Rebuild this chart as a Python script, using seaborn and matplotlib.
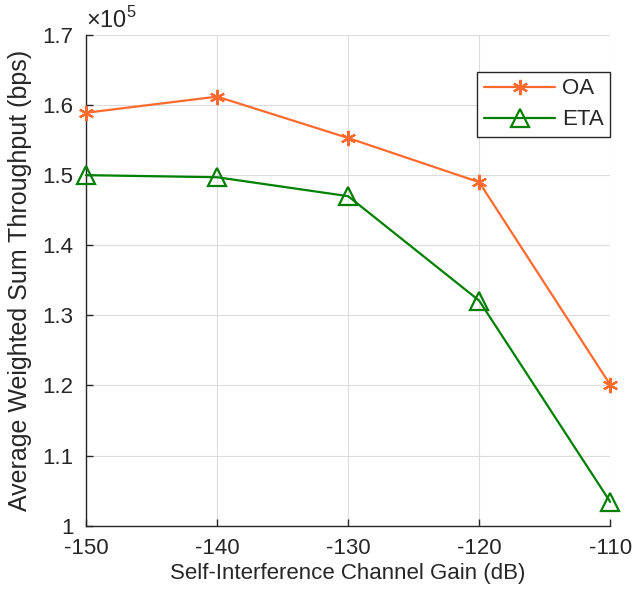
import matplotlib
matplotlib.use("Agg")
import matplotlib.pyplot as plt
import seaborn as sns
import pandas as pd
from matplotlib.ticker import FuncFormatter, MultipleLocator

gain_db = [-150, -140, -130, -120, -110]
oa_throughput = [1.589e5, 1.612e5, 1.553e5, 1.490e5, 1.201e5]
eta_throughput = [1.500e5, 1.497e5, 1.470e5, 1.321e5, 1.034e5]
series_names = ["OA", "ETA"]

sns.set_theme(style="whitegrid")
plt.rcParams["font.family"] = ["Liberation Sans", "DejaVu Sans"]
plt.rcParams["mathtext.fontset"] = "custom"
plt.rcParams["mathtext.rm"] = "Liberation Sans"
plt.rcParams["axes.unicode_minus"] = False

df = pd.DataFrame({
    "gain": gain_db * 2,
    "thr": [v / 1e5 for v in oa_throughput] + [v / 1e5 for v in eta_throughput],
    "series": [series_names[0]] * 5 + [series_names[1]] * 5,
})

fig = plt.figure(figsize=(6.33, 5.92), dpi=100)
ax = fig.add_axes([0.136, 0.112, 0.828, 0.829])

palette = {"OA": "#FF6A2F", "ETA": "#008000"}
sns.lineplot(data=df[df.series == "OA"], x="gain", y="thr", ax=ax, color=palette["OA"],
             marker=(6, 2, 0), markersize=11, markeredgewidth=1.6, linewidth=1.6,
             markeredgecolor=palette["OA"], label="OA", clip_on=False, zorder=5)
sns.lineplot(data=df[df.series == "ETA"], x="gain", y="thr", ax=ax, color=palette["ETA"],
             marker="^", markersize=13, markeredgewidth=1.6, linewidth=1.6,
             markerfacecolor="none", markeredgecolor=palette["ETA"], label="ETA",
             clip_on=False, zorder=5)

ax.set_xlim(-150, -110)
ax.set_ylim(1.0, 1.7)
ax.xaxis.set_major_locator(MultipleLocator(10))
ax.yaxis.set_major_locator(MultipleLocator(0.1))
ax.yaxis.set_major_formatter(FuncFormatter(lambda v, p: f"{round(v, 1):g}"))
ax.xaxis.set_major_formatter(FuncFormatter(lambda v, p: f"{round(v):d}"))

ax.grid(True, color="#dcdcdc", linewidth=0.8)
ax.set_facecolor("white")
for s in ["top", "right"]:
    ax.spines[s].set_visible(False)
for s in ["left", "bottom"]:
    ax.spines[s].set_visible(True)
    ax.spines[s].set_color("#262626")
    ax.spines[s].set_linewidth(1.0)

ax.tick_params(axis="both", direction="in", length=5, width=1.0, colors="#262626",
               labelsize=16, labelcolor="#262626", left=True, bottom=True)
ax.tick_params(axis="x", pad=9)
ax.tick_params(axis="y", pad=9)

ax.set_xlabel("Self-Interference Channel Gain (dB)", fontsize=16, color="#262626", labelpad=3)
ax.set_ylabel("Average Weighted Sum Throughput (bps)", fontsize=18, color="#262626")
ax.yaxis.set_label_coords(-0.104, 0.5)

ax.text(0.0, 1.005, r"$\times10^{5}$", transform=ax.transAxes, fontsize=17,
        color="#262626", ha="left", va="bottom")

leg = ax.legend(loc="upper right", bbox_to_anchor=(1.0, 0.925), fontsize=16, frameon=True,
                fancybox=False, edgecolor="#262626", framealpha=1, handlelength=3.2,
                borderpad=0.3, labelspacing=0.45, handletextpad=0.3, borderaxespad=0)
leg.get_frame().set_linewidth(1.0)

fig.savefig("out.png", dpi=100, facecolor="white")
